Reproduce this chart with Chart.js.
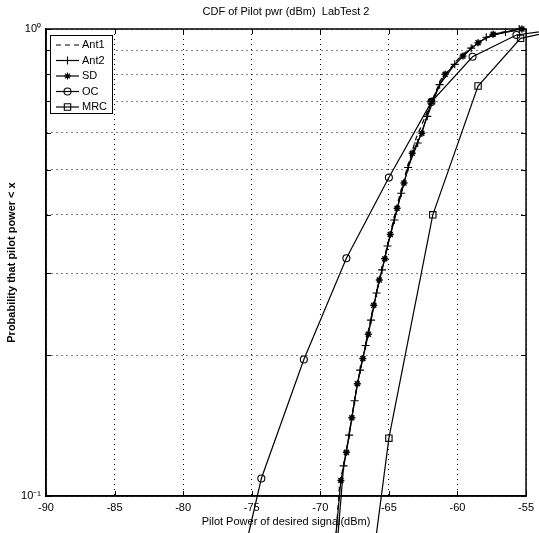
<!DOCTYPE html>
<html>
<head>
<meta charset="utf-8">
<script src="https://cdn.jsdelivr.net/npm/chart.js@4/dist/chart.umd.min.js"></script>
<style>
  html, body { margin: 0; padding: 0; background: #fff; }
  #wrap { width: 539px; height: 533px; }
</style>
</head>
<body>
<div id="wrap"><canvas id="cdf" width="539" height="533"></canvas></div>
<script>
// values (x = pilot power dBm, y = probability)
const ant1X = [-69.2, -68.6, -68.0, -67.4, -66.8, -66.2, -65.6, -65.0, -64.4, -63.7, -63.0, -62.2, -61.2, -60.0, -58.8, -57.5, -56.0, -55.0];
const ant1Y = [0.06, 0.105, 0.13, 0.168, 0.204, 0.25, 0.30, 0.355, 0.42, 0.50, 0.585, 0.665, 0.78, 0.86, 0.925, 0.97, 0.99, 1.0];

const ant2X = [-69.1, -68.3, -67.9, -67.5, -67.1, -66.7, -66.3, -65.9, -65.5, -65.1, -64.6, -64.1, -63.6, -62.9, -62.2, -61.3, -60.2, -59.0, -57.9, -56.5, -55.5];
const ant2Y = [0.06, 0.116, 0.135, 0.16, 0.186, 0.21, 0.238, 0.272, 0.305, 0.343, 0.39, 0.445, 0.505, 0.57, 0.65, 0.76, 0.84, 0.91, 0.96, 0.985, 1.0];

const sdX = [-69.3, -68.5, -68.1, -67.7, -67.3, -66.9, -66.5, -66.1, -65.7, -65.3, -64.9, -64.4, -63.9, -63.3, -62.6, -61.9, -60.9, -59.6, -58.5, -57.4, -55.3];
const sdY = [0.06, 0.108, 0.124, 0.147, 0.174, 0.197, 0.222, 0.256, 0.29, 0.322, 0.363, 0.413, 0.468, 0.542, 0.598, 0.70, 0.80, 0.875, 0.935, 0.975, 1.0];

const ocX = [-77.4, -74.3, -71.2, -68.1, -65.0, -61.9, -58.9, -55.7, -52.6];
const ocY = [0.044, 0.109, 0.196, 0.323, 0.481, 0.698, 0.872, 0.971, 1.0];

const mrcX = [-68.3, -65.0, -61.8, -58.5, -55.4, -52.2];
const mrcY = [0.024, 0.133, 0.40, 0.755, 0.955, 1.0];

const yTicks = [0.1, 0.2, 0.3, 0.4, 0.5, 0.6, 0.7, 0.8, 0.9, 1.0];
const chartTitle = 'CDF of Pilot pwr (dBm)  LabTest 2';

const FONT = '"Liberation Sans", Arial, Helvetica, sans-serif';
Chart.defaults.font.family = FONT;
Chart.defaults.font.size = 11;
Chart.defaults.color = '#000';

const pts = (xs, ys) => xs.map((x, i) => ({ x, y: ys[i] }));

function series(label, xs, ys, style) {
  return {
    label,
    data: pts(xs, ys),
    borderColor: '#000',
    borderWidth: 1.2,
    backgroundColor: 'rgba(0,0,0,0)',
    pointBorderColor: '#000',
    pointBackgroundColor: 'rgba(0,0,0,0)',
    pointBorderWidth: 1.1,
    tension: 0,
    clip: false,
    ...style,
  };
}

// matlab-ish axes box: full frame, inward ticks, centred title, legend inside the plot
const matlabBox = {
  id: 'matlabBox',
  afterDatasetsDraw(chart) {
    const { ctx, chartArea: a, scales } = chart;
    ctx.save();
    ctx.strokeStyle = '#000';
    ctx.lineWidth = 1.5;
    ctx.strokeRect(a.left, a.top, a.right - a.left, a.bottom - a.top);

    // inward tick marks on all four sides
    ctx.lineWidth = 1;
    ctx.beginPath();
    scales.x.ticks.forEach(t => {
      const px = Math.round(scales.x.getPixelForValue(t.value)) + 0.5;
      ctx.moveTo(px, a.bottom); ctx.lineTo(px, a.bottom - 5);
      ctx.moveTo(px, a.top); ctx.lineTo(px, a.top + 5);
    });
    scales.y.ticks.forEach(t => {
      const py = Math.round(scales.y.getPixelForValue(t.value)) + 0.5;
      ctx.moveTo(a.left, py); ctx.lineTo(a.left + 5, py);
      ctx.moveTo(a.right, py); ctx.lineTo(a.right - 5, py);
    });
    ctx.stroke();

    // title over the axes
    ctx.fillStyle = '#000';
    ctx.font = '11px ' + FONT;
    ctx.textAlign = 'center';
    ctx.textBaseline = 'middle';
    ctx.fillText(chartTitle, (a.left + a.right) / 2, 12);

    // legend
    const bx = 50, by = 35, bw = 62, bh = 78;
    ctx.fillStyle = '#fff';
    ctx.fillRect(bx, by, bw, bh);
    ctx.strokeRect(bx + 0.5, by + 0.5, bw, bh);
    chart.data.datasets.forEach((ds, i) => {
      const y = by + 10 + i * 15.5;
      ctx.save();
      ctx.setLineDash(ds.borderDash || []);
      ctx.beginPath();
      ctx.moveTo(56, y);
      ctx.lineTo(79, y);
      ctx.strokeStyle = '#000';
      ctx.lineWidth = 1.2;
      ctx.stroke();
      ctx.restore();
      if (ds.pointRadius > 0 && Chart.helpers && Chart.helpers.drawPoint) {
        ctx.save();
        ctx.strokeStyle = '#000';
        ctx.fillStyle = 'rgba(0,0,0,0)';
        ctx.lineWidth = 1.1;
        Chart.helpers.drawPoint(ctx, { pointStyle: ds.pointStyle, radius: ds.pointRadius, rotation: 0, borderWidth: 1.1 }, 67.5, y);
        ctx.restore();
      }
      ctx.fillStyle = '#000';
      ctx.font = '11px ' + FONT;
      ctx.textBaseline = 'middle';
      ctx.textAlign = 'left';
      ctx.fillText(ds.label, 82, y);
    });
    ctx.restore();
  },
};

new Chart(document.getElementById('cdf'), {
  type: 'line',
  data: {
    datasets: [
      series('Ant1', ant1X, ant1Y, { borderDash: [5, 4], pointRadius: 0 }),
      series('Ant2', ant2X, ant2Y, { pointStyle: 'cross', pointRadius: 4 }),
      series('SD', sdX, sdY, { pointStyle: 'star', pointRadius: 3.5, pointBorderWidth: 1.5 }),
      series('OC', ocX, ocY, { pointStyle: 'circle', pointRadius: 3.5 }),
      series('MRC', mrcX, mrcY, { pointStyle: 'rect', pointRadius: 4.5 }),
    ],
  },
  options: {
    responsive: false,
    animation: false,
    layout: { padding: { top: 29, right: 12, left: 0, bottom: 0 } },
    plugins: {
      legend: { display: false },
      tooltip: { enabled: false },
      title: { display: false },
    },
    scales: {
      x: {
        type: 'linear',
        min: -90,
        max: -55,
        ticks: { stepSize: 5, padding: 5, color: '#000', font: { size: 11 } },
        grid: { color: '#000', lineWidth: 1, drawTicks: false },
        border: { color: '#000', width: 1.5, dash: [1, 4] },
        title: {
          display: true,
          text: 'Pilot Power of desired signal(dBm)',
          color: '#000',
          font: { size: 11 },
          padding: { top: 0, bottom: 4 },
        },
        afterFit(s) { s.height = 37; },
      },
      y: {
        type: 'logarithmic',
        min: 0.1,
        max: 1,
        afterBuildTicks(s) { s.ticks = yTicks.map(v => ({ value: v })); },
        ticks: {
          padding: 5,
          color: '#000',
          font: { size: 11 },
          autoSkip: false,
          callback(v) {
            if (Math.abs(v - 1) < 1e-9) return '10\u2070';
            if (Math.abs(v - 0.1) < 1e-9) return '10\u207B\u00B9';
            return '';
          },
        },
        grid: { color: '#000', lineWidth: 1, drawTicks: false },
        border: { color: '#000', width: 1.5, dash: [1, 4] },
        title: {
          display: true,
          text: 'Probability that pilot power < x',
          color: '#000',
          font: { size: 11, weight: 'bold' },
          padding: { top: 5, bottom: 0 },
        },
        afterFit(s) { s.width = 46; },
      },
    },
  },
  plugins: [matlabBox],
});
</script>
</body>
</html>
